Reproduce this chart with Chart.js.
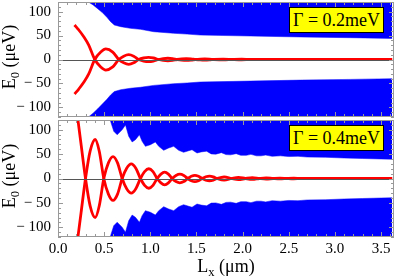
<!DOCTYPE html>
<html>
<head>
<meta charset="utf-8">
<script src="https://cdn.jsdelivr.net/npm/chart.js@4.4.0/dist/chart.umd.min.js"></script>
<style>
  body { margin:0; background:#fff; width:399px; height:279px; overflow:hidden; position:relative;
         font-family:'Liberation Serif','Times New Roman',serif; color:#000; }
  canvas { position:absolute; left:0; }
  #c1 { top:0; }
  #c2 { top:118px; }
  .box { position:absolute; left:289px; width:93px; height:24px; background:#ffff00; border:1px solid #000;
         font-size:18px; line-height:24px; text-align:center; white-space:nowrap; }
  .lab { position:absolute; font-size:18px; white-space:nowrap; transform:translate(-50%,-50%); }
  .rot { transform:translate(-50%,-50%) rotate(-90deg); }
  sub { font-size:70%; vertical-align:-0.25em; }
</style>
</head>
<body>
<canvas id="c1" width="399" height="119"></canvas>
<canvas id="c2" width="399" height="161"></canvas>
<div class="box" style="top:7px">Γ = 0.2meV</div>
<div class="box" style="top:125px">Γ = 0.4meV</div>
<div class="lab rot" style="left:11px;top:57px">E<sub>0</sub> (μeV)</div>
<div class="lab rot" style="left:11px;top:176px">E<sub>0</sub> (μeV)</div>
<div class="lab" style="left:226px;top:268px">L<sub>x</sub> (μm)</div>
<script>
// axis ticks
const xTicks = [0, 0.5, 1, 1.5, 2, 2.5, 3, 3.5];
const yTicks = [-100, -50, 0, 50, 100];

// top panel, Γ = 0.2 meV : lowest energy pair (µeV) vs Lx (µm)
const topRedL = [0.179, 0.225, 0.279, 0.333, 0.398, 0.463, 0.518, 0.593, 0.658, 0.712, 0.766, 0.82, 0.874,
                 0.927, 0.981, 1.034, 1.088, 1.14, 1.19, 1.24, 1.29, 1.34, 1.39, 1.44, 1.49, 1.54, 1.59,
                 1.64, 1.69, 1.79, 1.89, 1.99, 2.09, 2.5, 3.0, 3.62];
const topRedPlus  = [72, 61.6, 47.6, 30, 0, -15.5, -22, -15.5, 0, 7, 10, 7, 0, -3.2, -4.5, -3.2, 0,
                     2, 2.8, 2, 0, -1.3, -1.8, -1.3, 0, 0.85, 1.2, 0.85, 0, -0.8, 0, 0.5, 0, 0, 0, 0];
const topRedMinus = [-72, -61.6, -47.6, -30, 0, 15.5, 22, 15.5, 0, -7, -10, -7, 0, 3.2, 4.5, 3.2, 0,
                     -2, -2.8, -2, 0, 1.3, 1.8, 1.3, 0, -0.85, -1.2, -0.85, 0, 0.8, 0, -0.5, 0, 0, 0, 0];
// top panel gap edges
const topGapL  = [0.33, 0.38, 0.43, 0.48, 0.53, 0.57, 0.61, 0.68, 0.785, 0.893, 1.037, 1.253, 1.398,
                  1.542, 2.083, 2.624, 3.165, 3.62];
const topGapUp = [120, 114, 106, 98, 88, 79, 72, 68.5, 65, 63, 58, 54.7, 53, 51, 49, 47, 45.5, 44];
const topGapLo = [-120, -112, -103, -93, -83, -74, -67, -63, -60, -58, -54, -50.5, -49, -47, -45, -43, -41.5, -40];

// bottom panel, Γ = 0.4 meV
const botRedL = [0.205, 0.25, 0.298, 0.348, 0.403, 0.447, 0.496, 0.546, 0.596, 0.645, 0.695, 0.744, 0.794,
                 0.843, 0.893, 0.938, 0.984, 1.029, 1.074, 1.115, 1.155, 1.196, 1.236, 1.278, 1.32, 1.363,
                 1.405, 1.444, 1.483, 1.522, 1.561, 1.601, 1.642, 1.682, 1.723, 1.80, 1.88, 1.955, 2.03,
                 2.105, 2.18, 2.255, 2.33, 2.405, 2.48, 2.555, 2.63, 3.0, 3.62];
const botRedA = [136, 70, 0, -56, -80, -56, 0, 32, 45, 32, 0, -21, -30, -21, 0, 14, 20, 14, 0, -9, -13, -9, 0,
                 6.3, 9, 6.3, 0, -4.5, -6.5, -4.5, 0, 3.5, 5, 3.5, 0, -3.5, 0, 2.5, 0, -1.8, 0, 1.2, 0,
                 -0.8, 0, 0.5, 0, 0, 0];
const botRedB = [-136, -70, 0, 56, 80, 56, 0, -32, -45, -32, 0, 21, 30, 21, 0, -14, -20, -14, 0, 9, 13, 9, 0,
                 -6.3, -9, -6.3, 0, 4.5, 6.5, 4.5, 0, -3.5, -5, -3.5, 0, 3.5, 0, -2.5, 0, 1.8, 0, -1.2, 0,
                 0.8, 0, -0.5, 0, 0, 0];
const botGapL  = [0.565, 0.604, 0.641, 0.695, 0.731, 0.766, 0.803, 0.839, 0.882, 0.911, 0.947, 1.001, 1.055,
                  1.091, 1.145, 1.199, 1.253, 1.307, 1.361, 1.416, 1.452, 1.506, 1.55, 1.61, 1.66, 1.71, 1.77,
                  1.82, 1.87, 1.93, 1.98, 2.04, 2.09, 2.15, 2.2, 2.25, 2.32, 2.41, 2.5, 2.6, 2.7, 2.9, 3.1,
                  3.3, 3.5, 3.62];
const botGapUp = [120, 96.8, 89.8, 100, 110, 86.6, 75, 79.6, 89.8, 76.3, 66, 69.3, 74.9, 66, 57.8, 62.6, 66,
                  57.8, 53.7, 57, 59, 52.3, 54.5, 56, 50.5, 50, 53, 49, 48.5, 51, 47.5, 47.5, 49.5, 46.5, 46.5,
                  48, 45.5, 46.5, 45, 45.5, 44, 43.5, 42, 41, 40, 39.5];
const botGapLo = [-120, -96.8, -89.8, -100, -110, -86.6, -75, -79.6, -89.8, -76.3, -66, -69.3, -74.9, -66, -57.8,
                  -62.6, -66, -57.8, -53.7, -57, -59, -52.3, -54.5, -56, -50.5, -50, -53, -49, -48.5, -51, -47.5,
                  -47.5, -49.5, -46.5, -46.5, -48, -45.5, -46.5, -45, -45.5, -44, -43.5, -42, -41, -40, -39.5];

const pts = (xs, ys) => xs.map((x, i) => ({ x: x, y: ys[i] }));
const serif = "'Liberation Serif', 'Times New Roman', serif";

const framePlugin = {
    id: 'frame',
    afterDatasetsDraw(chart) {
        const { ctx, chartArea: a, scales } = chart;
        const sx = scales.x, sy = scales.y;
        ctx.save();
        ctx.lineWidth = 1;
        // E = 0 axis
        const y0 = Math.round(sy.getPixelForValue(0)) + 0.5;
        ctx.strokeStyle = '#555';
        ctx.beginPath(); ctx.moveTo(a.left, y0); ctx.lineTo(a.right, y0); ctx.stroke();
        // frame + inward ticks
        ctx.strokeStyle = '#999';
        ctx.strokeRect(a.left + 0.5, a.top + 0.5, a.width - 1, a.height - 1);
        ctx.beginPath();
        for (let i = 0; i <= 36; i++) {
            const px = Math.round(sx.getPixelForValue(i / 10)) + 0.5;
            const len = i % 5 === 0 ? 5 : 3;
            ctx.moveTo(px, a.bottom); ctx.lineTo(px, a.bottom - len);
            ctx.moveTo(px, a.top);    ctx.lineTo(px, a.top + len);
        }
        for (let v = -120; v <= 120; v += 10) {
            const py = Math.round(sy.getPixelForValue(v)) + 0.5;
            const len = v % 50 === 0 ? 5 : 3;
            ctx.moveTo(a.left, py);  ctx.lineTo(a.left + len, py);
            ctx.moveTo(a.right, py); ctx.lineTo(a.right - len, py);
        }
        ctx.stroke();
        ctx.restore();
    }
};

function panel(id, redL, redA, redB, gapL, gapUp, gapLo, showX) {
    const red = (data) => ({
        data: data, borderColor: '#ff0000', borderWidth: 2.8, pointRadius: 0,
        cubicInterpolationMode: 'monotone', fill: false, clip: 0
    });
    const blue = (data, fill) => ({
        data: data, borderColor: '#0000ff', backgroundColor: '#0000ff', borderWidth: 0.5,
        pointRadius: 0, tension: 0, fill: fill, clip: 0
    });
    return new Chart(document.getElementById(id), {
        type: 'line',
        data: {
            datasets: [
                red(pts(redL, redA)),
                red(pts(redL, redB)),
                blue(pts(gapL, gapUp), 'end'),
                blue(pts(gapL, gapLo), 'start')
            ]
        },
        options: {
            responsive: false,
            animation: false,
            events: [],
            layout: { padding: { top: 2, right: 5, bottom: showX ? 0 : 2, left: 0 } },
            plugins: { legend: { display: false }, tooltip: { enabled: false } },
            scales: {
                x: {
                    type: 'linear', min: 0, max: 3.64, display: showX,
                    grid: { display: false, drawTicks: false }, border: { display: false },
                    afterBuildTicks: s => { s.ticks = xTicks.map(v => ({ value: v })); },
                    afterFit: s => { s.height = showX ? 42 : 0; s.paddingLeft = 0; s.paddingRight = 0; },
                    ticks: {
                        color: '#000', padding: 3, maxRotation: 0,
                        font: { family: serif, size: 15 },
                        callback: v => Number(v).toFixed(1)
                    }
                },
                y: {
                    type: 'linear', min: -120, max: 120,
                    grid: { display: false, drawTicks: false }, border: { display: false },
                    afterBuildTicks: s => { s.ticks = yTicks.map(v => ({ value: v })); },
                    afterFit: s => { s.width = 58; s.paddingTop = 0; s.paddingBottom = 0; },
                    ticks: {
                        color: '#000', padding: 7,
                        font: { family: serif, size: 15 },
                        callback: v => v < 0 ? '\u2212 ' + Math.abs(v) : String(v)
                    }
                }
            }
        },
        plugins: [framePlugin]
    });
}

panel('c1', topRedL, topRedPlus, topRedMinus, topGapL, topGapUp, topGapLo, false);
panel('c2', botRedL, botRedA, botRedB, botGapL, botGapUp, botGapLo, true);
</script>
</body>
</html>
